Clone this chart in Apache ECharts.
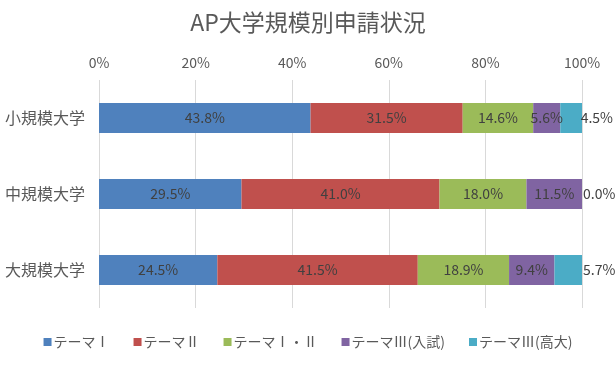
<!DOCTYPE html>
<html><head><meta charset="utf-8">
<script src="https://cdn.jsdelivr.net/npm/echarts@6/dist/echarts.min.js"></script>
<style>html,body{margin:0;padding:0;background:#fff}#c{width:616px;height:365px}</style>
</head><body><div id="c"></div>
<script>
const categories = ['小規模大学', '中規模大学', '大規模大学'];
const seriesNames = ['テーマⅠ', 'テーマⅡ', 'テーマⅠ・Ⅱ', 'テーマⅢ(入試)', 'テーマⅢ(高大)'];
const theme1 = [43.8, 29.5, 24.5];
const theme2 = [31.5, 41.0, 41.5];
const theme12 = [14.6, 18.0, 18.9];
const theme3a = [5.6, 11.5, 9.4];
const theme3b = [4.5, 0.0, 5.7];
const xTicks = [0, 20, 40, 60, 80, 100];
const colors = ['#4F81BD', '#C0504D', '#9BBB59', '#8064A2', '#4BACC6'];
const values = [theme1, theme2, theme12, theme3a, theme3b];
const font = '"Noto Sans CJK JP", "Noto Sans", sans-serif';

const chart = echarts.init(document.getElementById('c'));
const series = values.map((vals, i) => ({
  name: seriesNames[i],
  type: 'bar',
  stack: 'total',
  barWidth: 30,
  itemStyle: { color: colors[i] },
  label: {
    show: true,
    position: i === 4 ? 'right' : 'inside',
    distance: i === 4 ? 1 : 5,
    color: '#404040',
    fontSize: 14,
    fontFamily: font,
    formatter: p => p.value.toFixed(1) + '%'
  },
  data: vals.map((v, j) => (i === 4 && j === 0) ? { value: v, label: { position: 'insideRight', offset: [32, 0] } } : v)
}));

chart.setOption({
  animation: false,
  title: {
    text: 'AP大学規模別申請状況', left: 'center', top: 6,
    textStyle: { color: '#595959', fontSize: 23, fontWeight: 'normal', fontFamily: font }
  },
  legend: {
    bottom: 11, left: 'center', itemWidth: 8, itemHeight: 8, itemGap: 24, icon: 'rect',
    textStyle: { color: '#595959', fontSize: 14, fontFamily: font, padding: [0, 0, 0, -3] },
    data: seriesNames
  },
  grid: { left: 99, right: 34, top: 80, bottom: 57 },
  xAxis: {
    type: 'value', position: 'top', min: 0, max: 100, interval: 20,
    axisLabel: { color: '#595959', fontSize: 14, fontFamily: font, formatter: v => v + '%', margin: 10 },
    axisLine: { show: false }, axisTick: { show: false },
    splitLine: { lineStyle: { color: '#D9D9D9' } }
  },
  yAxis: {
    type: 'category', data: categories, inverse: true,
    axisLabel: { color: '#595959', fontSize: 16, fontFamily: font, margin: 14 },
    axisLine: { show: false }, axisTick: { show: false }
  },
  series
});
</script></body></html>
